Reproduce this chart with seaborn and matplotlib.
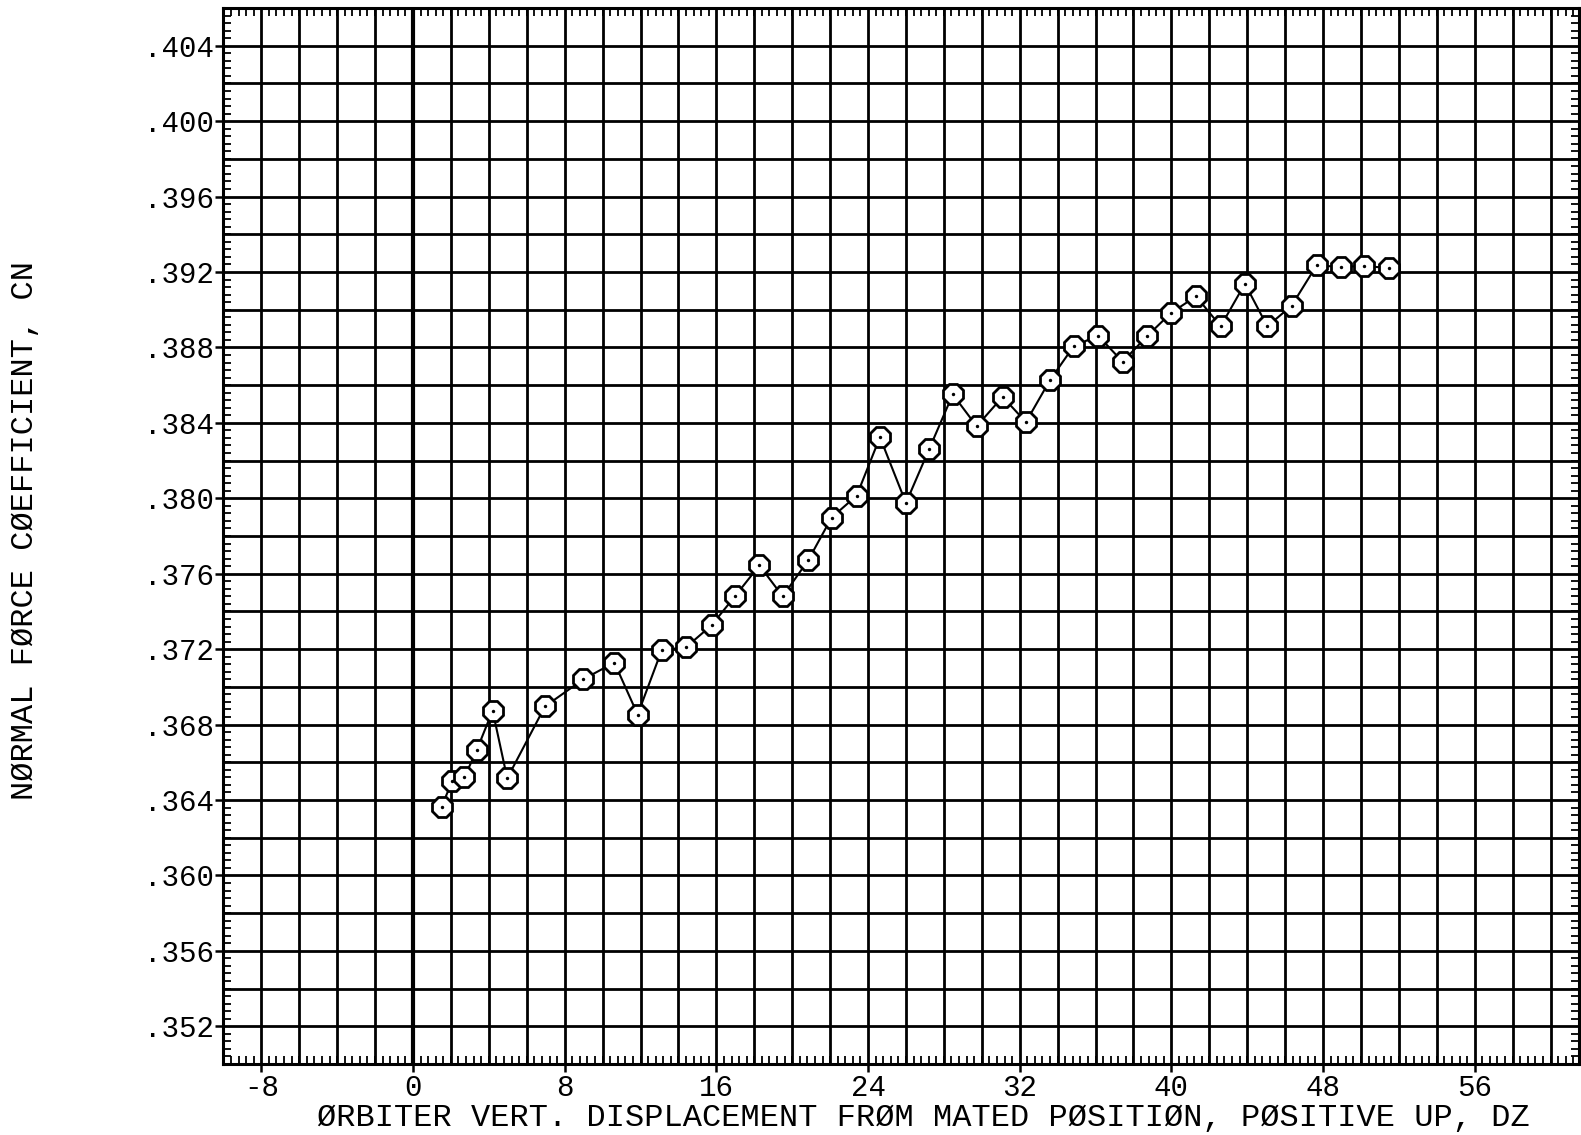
import numpy as np
import pandas as pd
import matplotlib
matplotlib.use("Agg")
import matplotlib.pyplot as plt
import seaborn as sns
from matplotlib.ticker import MultipleLocator, FixedLocator, FuncFormatter

# ---- data ----
dz = [1.51, 2.07, 2.71, 3.36, 4.20, 4.97, 6.96, 8.98, 10.62, 11.85, 13.12, 14.40,
      15.75, 16.98, 18.27, 19.50, 20.85, 22.08, 23.40, 24.63, 26.00, 27.23, 28.47,
      29.73, 31.10, 32.33, 33.60, 34.86, 36.14, 37.43, 38.70, 39.97, 41.30, 42.60,
      43.88, 45.06, 46.34, 47.66, 48.93, 50.16, 51.49]
cn = [.36365, .36501, .36520, .36664, .36874, .36515, .36896, .37040, .37129, .36853,
      .37195, .37210, .37327, .37480, .37644, .37480, .37672, .37898, .38014, .38324,
      .37975, .38262, .38551, .38382, .38538, .38404, .38627, .38808, .38862, .38724,
      .38858, .38982, .39071, .38912, .39138, .38912, .39021, .39235, .39227, .39232,
      .39221]
x_ticks = [-8, 0, 8, 16, 24, 32, 40, 48, 56]
y_ticks = [.352, .356, .360, .364, .368, .372, .376, .380, .384, .388, .392, .396, .400, .404]
x_label = "ØRBITER VERT. DISPLACEMENT FRØM MATED PØSITIØN, PØSITIVE UP, DZ"
y_label = "NØRMAL FØRCE CØEFFICIENT, CN"

df = pd.DataFrame({"DZ": dz, "CN": cn})

sns.set_theme(style="white")
plt.rcParams["font.family"] = ["Liberation Mono", "DejaVu Sans Mono"]

W, H = 1581, 1135
fig = plt.figure(figsize=(W / 100, H / 100), dpi=100)
x0, x1 = 223.4, 1579.0
y0, y1 = 8.0, 1064.0
ax = fig.add_axes([x0 / W, 1 - y1 / H, (x1 - x0) / W, (y1 - y0) / H])

XMIN, XMAX = -10, 61.5
YMIN, YMAX = 0.350, 0.406
ax.set_xlim(XMIN, XMAX)
ax.set_ylim(YMIN, YMAX)

# grid every 2 units in x, every .002 in y
for gx in np.arange(-8, XMAX, 2):
    ax.axvline(gx, color="black", lw=3.0 if gx == 0 else 2.0, zorder=1)
for gy in np.arange(0.352, YMAX - 1e-9, 0.002):
    ax.axhline(gy, color="black", lw=2.0, zorder=1)

sns.lineplot(data=df, x="DZ", y="CN", ax=ax, sort=False, color="black",
             lw=1.5, marker="8", markersize=16, markerfacecolor="white",
             markeredgecolor="black", markeredgewidth=2.0, zorder=3)
sns.scatterplot(data=df, x="DZ", y="CN", ax=ax, color="black", s=6,
                linewidth=0, zorder=4)

for sp in ax.spines.values():
    sp.set_visible(True)
    sp.set_color("black")
    sp.set_linewidth(2.2)

ax.xaxis.set_major_locator(FixedLocator(x_ticks))
ax.yaxis.set_major_locator(FixedLocator(y_ticks))
ax.xaxis.set_minor_locator(MultipleLocator(0.4))
ax.yaxis.set_minor_locator(MultipleLocator(0.0004))
ax.yaxis.set_major_formatter(FuncFormatter(lambda v, p: ("%.3f" % v)[1:]))
ax.xaxis.set_major_formatter(FuncFormatter(lambda v, p: "%d" % v))

ax.tick_params(which="major", direction="out", length=6, width=1.8,
               colors="black", labelsize=21, pad=1,
               bottom=True, left=True, top=False, right=False)
ax.tick_params(which="minor", direction="in", length=6, width=1.3,
               colors="black", bottom=True, left=True, top=True, right=True)

ax.set_xlabel(x_label, fontsize=23, color="black", va="center", ha="center")
ax.set_ylabel(y_label, fontsize=23, color="black", va="center", ha="center")
ax.xaxis.set_label_coords((923 - x0) / (x1 - x0), (y1 - 1118) / (y1 - y0))
ax.yaxis.set_label_coords((25 - x0) / (x1 - x0), (y1 - 530) / (y1 - y0))

fig.savefig("out.png", dpi=100, facecolor="white")
